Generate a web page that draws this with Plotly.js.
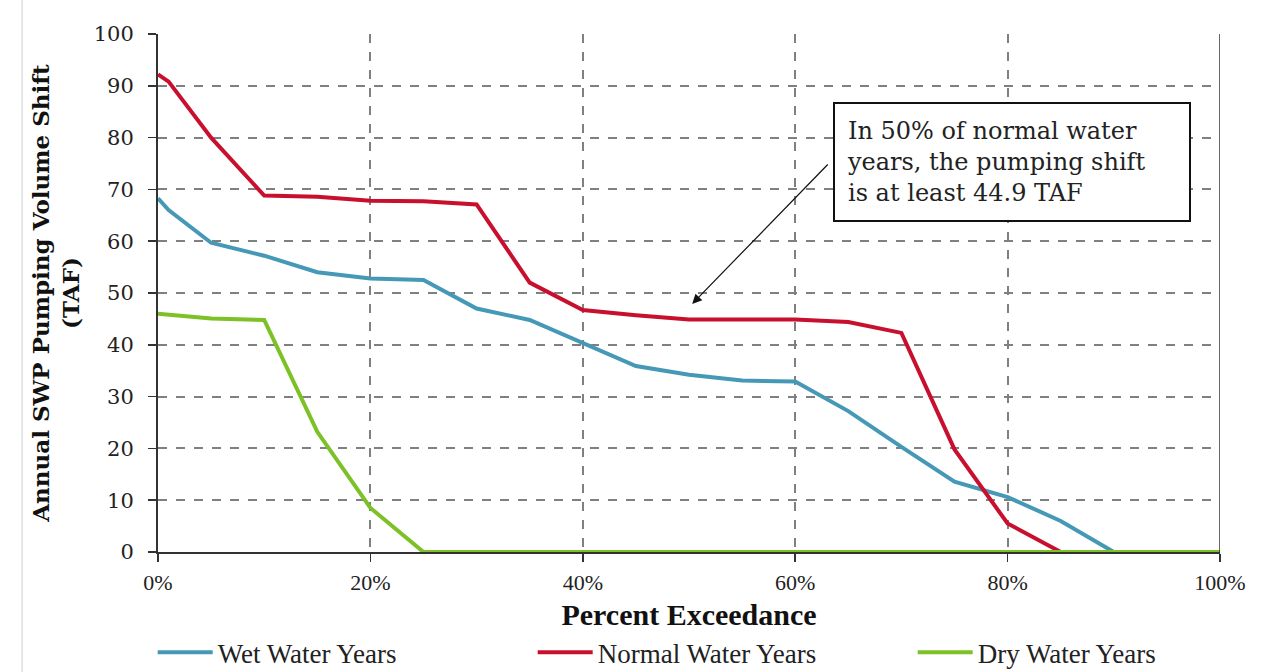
<!DOCTYPE html>
<html><head><meta charset="utf-8">
<script src="https://cdn.plot.ly/plotly-3.0.1.min.js"></script>
<style>html,body{margin:0;padding:0;background:#fff}#chart{width:1268px;height:672px}</style>
</head><body><div id="chart"></div>
<script>
const exceedance = [0, 1, 5, 10, 15, 20, 25, 30, 35, 40, 45, 50, 55, 60, 65, 70, 75, 80, 85, 90, 95, 100];
const wetYears    = [68.3, 66.0, 59.7, 57.2, 54.0, 52.8, 52.5, 47.0, 44.8, 40.3, 35.9, 34.2, 33.1, 32.9, 27.2, 20.3, 13.6, 10.6, 6.0, 0, 0, 0];
const normalYears = [92.2, 90.8, 80.0, 68.8, 68.6, 67.8, 67.7, 67.1, 52.0, 46.7, 45.7, 44.9, 44.9, 44.9, 44.4, 42.3, 19.8, 5.5, 0, 0, 0, 0];
const dryYears    = [46.0, 45.8, 45.1, 44.8, 23.2, 8.5, 0, 0, 0, 0, 0, 0, 0, 0, 0, 0, 0, 0, 0, 0, 0, 0];
const seriesNames = ['Wet Water Years', 'Normal Water Years', 'Dry Water Years'];
const xTicks = [0, 20, 40, 60, 80, 100];
const yTicks = [0, 10, 20, 30, 40, 50, 60, 70, 80, 90, 100];
const noteText = 'In 50% of normal water<br>years, the pumping shift<br>is at least 44.9 TAF';
const notePoint = {x: 50.3, y: 47.9};

const serif = 'Liberation Serif, DejaVu Serif, serif';
const traces = [
  {x: exceedance, y: wetYears, name: seriesNames[0], mode: 'lines', line: {color: '#4598B6', width: 4}},
  {x: exceedance, y: normalYears, name: seriesNames[1], mode: 'lines', line: {color: '#C8102E', width: 4}},
  {x: exceedance, y: dryYears, name: seriesNames[2], mode: 'lines', line: {color: '#7CC126', width: 4}}
];
const layout = {
  width: 1268, height: 672,
  margin: {l: 158, r: 48, t: 34, b: 120, autoexpand: false},
  paper_bgcolor: '#fff', plot_bgcolor: '#fff',
  showlegend: true,
  legend: {orientation: 'h', x: -0.005, xanchor: 'left', y: -0.147, yanchor: 'top',
    font: {family: serif, size: 27, color: '#222'}, entrywidth: 310, entrywidthmode: 'pixels',
    itemwidth: 55, tracegroupgap: 0},
  xaxis: {range: [0, 100], tickvals: xTicks, ticktext: xTicks.map(v => v + '%'),
    showgrid: true, gridcolor: '#808080', griddash: 'dash', gridwidth: 2,
    showline: true, linecolor: '#333', linewidth: 2, mirror: false,
    ticks: 'outside', ticklen: 8, tickcolor: '#333', tickwidth: 1.5, ticklabelstandoff: 2,
    tickfont: {family: serif, size: 22, color: '#222'}, zeroline: false,
    title: {text: '<b>Percent Exceedance</b>', font: {family: serif, size: 30, color: '#111'}, standoff: 10}},
  yaxis: {range: [0, 100], tickvals: yTicks,
    showgrid: true, gridcolor: '#808080', griddash: 'dash', gridwidth: 2,
    showline: true, linecolor: '#333', linewidth: 2,
    ticks: 'outside', ticklen: 8, tickcolor: '#333', tickwidth: 1.5, ticklabelstandoff: 10,
    tickfont: {family: 'DejaVu Serif, serif', size: 21, color: '#222'}, zeroline: false,
    title: {text: '<b>Annual SWP Pumping Volume Shift<br>(TAF)</b>', font: {family: 'DejaVu Serif, serif', size: 23, color: '#111'}, standoff: 8}},
  shapes: [
    {type: 'line', xref: 'x', yref: 'paper', x0: 100, x1: 100, y0: 0, y1: 1, line: {color: '#333', width: 1.5}},
    {type: 'line', xref: 'paper', yref: 'paper', x0: -0.128, x1: -0.128, y0: -0.24, y1: 1.07, line: {color: '#ccc', width: 1}}
  ],
  annotations: [
    {x: notePoint.x, y: notePoint.y, xref: 'x', yref: 'y', ax: 63.2, ay: 75.1, axref: 'x', ayref: 'y',
     showarrow: true, arrowhead: 2, arrowsize: 1.6, arrowwidth: 1.2, arrowcolor: '#111', text: ''},
    {x: 80.4, y: 75.3, xref: 'x', yref: 'y', text: noteText, showarrow: false, align: 'left',
     width: 330, height: 92,
     font: {family: 'DejaVu Serif, serif', size: 24, color: '#222'},
     bgcolor: '#fff', bordercolor: '#111', borderwidth: 2, borderpad: 12}
  ]
};
Plotly.newPlot('chart', traces, layout, {displayModeBar: false, staticPlot: true});
</script></body></html>
